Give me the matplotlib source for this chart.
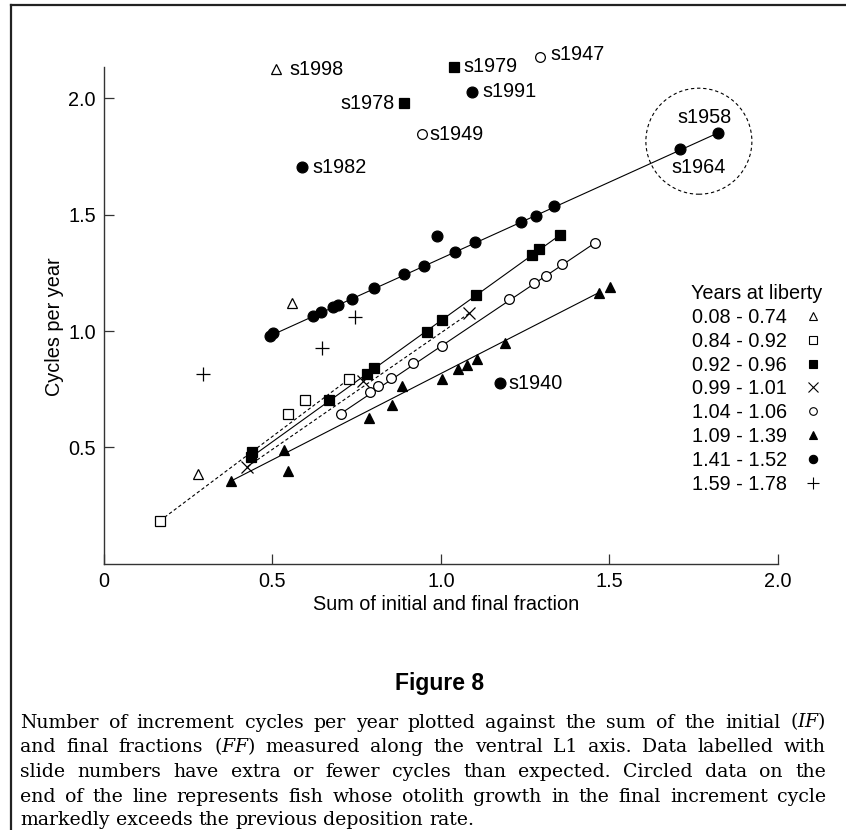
import numpy as np
import matplotlib
matplotlib.use("Agg")
import matplotlib.pyplot as plt
from matplotlib.lines import Line2D
from matplotlib.patches import Ellipse

plt.rcParams['font.family'] = ['Liberation Sans', 'DejaVu Sans']
plt.rcParams['mathtext.fontset'] = 'dejavuserif'

# ---------------- data ----------------
legend_labels = ["0.08 - 0.74", "0.84 - 0.92", "0.92 - 0.96", "0.99 - 1.01",
                 "1.04 - 1.06", "1.09 - 1.39", "1.41 - 1.52", "1.59 - 1.78"]

tri_open_x = [0.280, 0.557, 0.511]
tri_open_y = [0.385, 1.122, 2.126]

sq_open_x = [0.166, 0.545, 0.596, 0.726]
sq_open_y = [0.184, 0.642, 0.702, 0.792]

sq_fill_x = [0.436, 0.440, 0.667, 0.780, 0.802, 0.958, 1.004, 1.103, 1.271, 1.291, 1.354, 0.890, 1.039]
sq_fill_y = [0.457, 0.481, 0.703, 0.816, 0.840, 0.997, 1.047, 1.153, 1.327, 1.351, 1.413, 1.979, 2.136]

cross_x = [0.426, 0.770, 1.084]
cross_y = [0.417, 0.785, 1.076]

circ_open_x = [0.703, 0.790, 0.812, 0.852, 0.918, 1.002, 1.202, 1.276, 1.311, 1.360, 1.459, 0.944, 1.294]
circ_open_y = [0.645, 0.739, 0.764, 0.799, 0.864, 0.936, 1.138, 1.205, 1.236, 1.288, 1.380, 1.846, 2.179]

tri_fill_x = [0.377, 0.787, 0.854, 0.884, 1.004, 1.052, 1.077, 1.106, 1.190, 1.469, 1.502, 0.535, 0.547]
tri_fill_y = [0.355, 0.627, 0.681, 0.765, 0.794, 0.838, 0.854, 0.880, 0.947, 1.165, 1.188, 0.488, 0.398]

circ_fill_x = [0.493, 0.501, 0.619, 0.644, 0.679, 0.694, 0.737, 0.803, 0.892, 0.950, 1.042, 1.100,
               1.239, 1.281, 1.335, 1.710, 1.822, 0.989, 0.587, 1.091, 1.175]
circ_fill_y = [0.979, 0.990, 1.064, 1.083, 1.105, 1.113, 1.138, 1.186, 1.244, 1.279, 1.341, 1.381,
               1.470, 1.494, 1.537, 1.781, 1.851, 1.407, 1.704, 2.029, 0.775]

plus_x = [0.293, 0.646, 0.745]
plus_y = [0.815, 0.925, 1.062]

# series: (x, y, marker, face, size, legend size, line (i0, i1, style) or None)
series = [
    (tri_open_x, tri_open_y, '^', 'white', 7, 6, None),
    (sq_open_x, sq_open_y, 's', 'white', 6.5, 5.5, (0, 3, '--')),
    (sq_fill_x, sq_fill_y, 's', 'black', 6.5, 5.5, (0, 10, '-')),
    (cross_x, cross_y, 'x', 'none', 8, 7, (0, 2, '--')),
    (circ_open_x, circ_open_y, 'o', 'white', 7, 5.5, (0, 10, '-')),
    (tri_fill_x, tri_fill_y, '^', 'black', 7.5, 6, (0, 9, '-')),
    (circ_fill_x, circ_fill_y, 'o', 'black', 7.8, 6, (0, 16, '-')),
    (plus_x, plus_y, '+', 'none', 10, 9, None),
]

# labelled points: (text, series index, point index, offset px (dx, dy), ha)
point_labels = [
    ("s1998", 0, 2, (13, 0), 'left'),
    ("s1978", 2, 11, (-9, 0), 'right'),
    ("s1979", 2, 12, (9, 0), 'left'),
    ("s1949", 4, 11, (7, 0), 'left'),
    ("s1947", 4, 12, (11, 2), 'left'),
    ("s1982", 6, 18, (11, 0), 'left'),
    ("s1991", 6, 19, (11, 0), 'left'),
    ("s1940", 6, 20, (9, 0), 'left'),
    ("s1958", 6, 16, (14, 16), 'right'),
    ("s1964", 6, 15, (-9, -18), 'left'),
]

FS = 14.3
W, H = 846, 830
fig = plt.figure(figsize=(W / 100, H / 100), dpi=100)

x0_px, x2_px = 104, 777.7
y0_px = 563.6
ppu_y = 232.6
ymax = 2.2
top_px = y0_px - ymax * ppu_y
ax = fig.add_axes([x0_px / W, (H - y0_px) / H, (x2_px - x0_px) / W, (y0_px - top_px) / H])
ax.set_xlim(0, 2.0)
ax.set_ylim(0, ymax)

ax.spines['top'].set_visible(False)
ax.spines['right'].set_visible(False)
for s in ('left', 'bottom'):
    ax.spines[s].set_linewidth(1.0)
    ax.spines[s].set_color('#333333')
ax.spines['left'].set_bounds(0, 2.136)
ax.spines['bottom'].set_bounds(0, 2.0)
ax.set_xticks([0, 0.5, 1.0, 1.5, 2.0])
ax.set_xticklabels(['0', '0.5', '1.0', '1.5', '2.0'])
ax.set_yticks([0.5, 1.0, 1.5, 2.0])
ax.set_yticklabels(['0.5', '1.0', '1.5', '2.0'])
ax.tick_params(direction='in', length=7, width=0.9, labelsize=FS, pad=6, color='#333333')
ax.patch.set_alpha(0)

handles = []
for x, y, m, fc, ms, lms, line in series:
    if line is not None:
        i0, i1, ls = line
        ln, = ax.plot([x[i0], x[i1]], [y[i0], y[i1]], color='black', lw=0.8, zorder=2)
        if ls == '--':
            ln.set_dashes((3, 2.2))
    if m in ('x', '+'):
        ax.plot(x, y, ls='none', marker=m, ms=ms, mew=0.9, color='black', zorder=3, clip_on=False)
        handles.append(Line2D([], [], ls='none', marker=m, ms=lms, mew=0.8, color='black'))
    else:
        ax.plot(x, y, ls='none', marker=m, ms=ms, mfc=fc, mec='black', mew=0.9, zorder=3, clip_on=False)
        handles.append(Line2D([], [], ls='none', marker=m, ms=lms, mfc=fc, mec='black', mew=0.8))

for txt, si, pi, (dx, dy), ha in point_labels:
    px = series[si][0][pi]
    py = series[si][1][pi]
    ax.annotate(txt, (px, py), xytext=(dx * 0.72, dy * 0.72), textcoords='offset points',
                ha=ha, va='center', fontsize=FS, annotation_clip=False)

# dashed circle around the two end points (s1958, s1964)
cx = (circ_fill_x[15] + circ_fill_x[16]) / 2
cy = (circ_fill_y[15] + circ_fill_y[16]) / 2
r_px = 53
ppu_x = (x2_px - x0_px) / 2.0
ax.add_patch(Ellipse((cx, cy), 2 * r_px / ppu_x, 2 * r_px / ppu_y, fill=False,
                     ec='black', lw=0.8, ls=(0, (3, 2.5)), clip_on=False))

leg = fig.legend(handles, legend_labels, title="Years at liberty", markerfirst=False,
                 frameon=False, loc='upper center', bbox_to_anchor=(757 / W, 1 - 274 / H),
                 fontsize=FS, title_fontsize=FS, labelspacing=0.245, handlelength=1.0,
                 handletextpad=0.8, borderpad=0)

fig.text(446 / W, 1 - 604 / H, "Sum of initial and final fraction", ha='center', va='center',
         fontsize=FS)
fig.text(55 / W, 1 - 327 / H, "Cycles per year", ha='center', va='center', rotation=90,
         fontsize=FS)

fig.text(440 / W, 1 - 683 / H, "Figure 8", ha='center', va='center', fontsize=16.5,
         fontweight='bold', family=['Liberation Sans Narrow', 'Liberation Sans'])

# frame lines (top and left)
fig.add_artist(Line2D([10.7 / W, 1], [1 - 5 / H, 1 - 5 / H], transform=fig.transFigure,
                      color='#222222', lw=1.6))
fig.add_artist(Line2D([10.7 / W, 10.7 / W], [0, 1 - 5 / H], transform=fig.transFigure,
                      color='#222222', lw=1.6))

caption = [
    "Number of increment cycles per year plotted against the sum of the initial ($\\mathit{IF}$)",
    "and final fractions ($\\mathit{FF}$) measured along the ventral L1 axis. Data labelled with",
    "slide numbers have extra or fewer cycles than expected. Circled data on the",
    "end of the line represents fish whose otolith growth in the final increment cycle",
    "markedly exceeds the previous deposition rate.",
]
cap_centers = [723, 748, 772, 797, 820]
cap_left, cap_right = 20, 826
cap_fs = 13.6
fig.canvas.draw()
rend = fig.canvas.get_renderer()
for i, line in enumerate(caption):
    words = line.split(' ')
    yb = 1 - (cap_centers[i] + 4.5) / H
    texts = [fig.text(0, yb, w, fontsize=cap_fs, family='DejaVu Serif', va='baseline', ha='left')
             for w in words]
    widths = [t.get_window_extent(rend).width for t in texts]
    sp = fig.text(0, 0, "a a", fontsize=cap_fs, family='DejaVu Serif')
    sp2 = fig.text(0, 0, "aa", fontsize=cap_fs, family='DejaVu Serif')
    space = sp.get_window_extent(rend).width - sp2.get_window_extent(rend).width
    sp.remove(); sp2.remove()
    if i < len(caption) - 1:
        gap = (cap_right - cap_left - sum(widths)) / (len(words) - 1)
        if gap < 0.5 * space:
            scale = (cap_right - cap_left - 0.6 * space * (len(words) - 1)) / sum(widths)
            for t in texts:
                t.set_fontsize(cap_fs * scale)
            widths = [t.get_window_extent(rend).width for t in texts]
            gap = (cap_right - cap_left - sum(widths)) / (len(words) - 1)
    else:
        gap = space
    xpos = cap_left
    for t, w in zip(texts, widths):
        t.set_x(xpos / W)
        xpos += w + gap

fig.savefig("out.png", dpi=100)
